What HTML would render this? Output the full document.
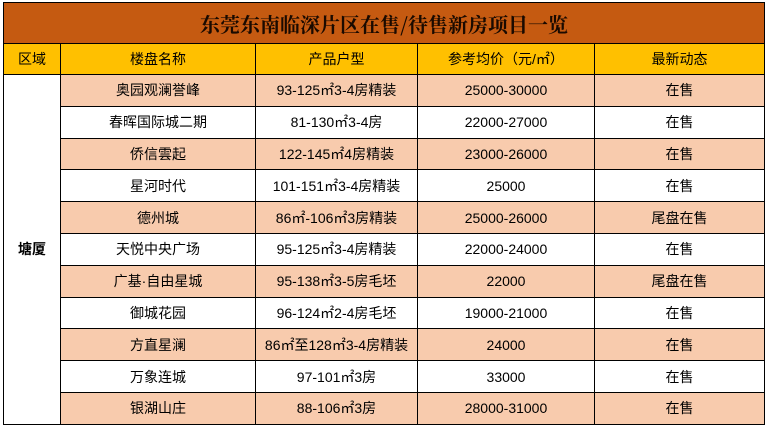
<!DOCTYPE html><html><head><meta charset="utf-8"><style>
html,body{margin:0;width:768px;height:429px;overflow:hidden;background:#fff}
body{font-family:"Liberation Sans","Noto Sans CJK SC",sans-serif;position:relative}
table{position:absolute;left:3px;top:2px;border-collapse:collapse;table-layout:fixed;width:761px}
td{border:1.5px solid #000;text-align:center;font-size:14px;padding:0;height:30.8px;color:#000;white-space:nowrap;overflow:hidden}
.t td{background:#c55a11;font-size:20px;font-weight:bold;height:40px;font-family:"Noto Serif CJK SC",serif;color:#1a0a00}
.h td{background:#ffc000;height:30px}
.o td.c{background:#f8cbad}
.region{background:#fff;font-weight:bold}
</style></head><body>
<table>
<colgroup><col style="width:57px"><col style="width:195px"><col style="width:162px"><col style="width:177px"><col style="width:170px"></colgroup>
<tr class="t"><td colspan="5">东莞东南临深片区在售/待售新房项目一览</td></tr>
<tr class="h"><td>区域</td><td>楼盘名称</td><td>产品户型</td><td>参考均价（元/㎡）</td><td>最新动态</td></tr>
<tr class="o"><td rowspan="11" class="region">塘厦</td><td class="c">奥园观澜誉峰</td><td class="c">93-125㎡3-4房精装</td><td class="c">25000-30000</td><td class="c">在售</td></tr>
<tr><td>春晖国际城二期</td><td>81-130㎡3-4房</td><td>22000-27000</td><td>在售</td></tr>
<tr class="o"><td class="c">侨信雲起</td><td class="c">122-145㎡4房精装</td><td class="c">23000-26000</td><td class="c">在售</td></tr>
<tr><td>星河时代</td><td>101-151㎡3-4房精装</td><td>25000</td><td>在售</td></tr>
<tr class="o"><td class="c">德州城</td><td class="c">86㎡-106㎡3房精装</td><td class="c">25000-26000</td><td class="c">尾盘在售</td></tr>
<tr><td>天悦中央广场</td><td>95-125㎡3-4房精装</td><td>22000-24000</td><td>在售</td></tr>
<tr class="o"><td class="c">广基·自由星城</td><td class="c">95-138㎡3-5房毛坯</td><td class="c">22000</td><td class="c">尾盘在售</td></tr>
<tr><td>御城花园</td><td>96-124㎡2-4房毛坯</td><td>19000-21000</td><td>在售</td></tr>
<tr class="o"><td class="c">方直星澜</td><td class="c">86㎡至128㎡3-4房精装</td><td class="c">24000</td><td class="c">在售</td></tr>
<tr><td>万象连城</td><td>97-101㎡3房</td><td>33000</td><td>在售</td></tr>
<tr class="o"><td class="c">银湖山庄</td><td class="c">88-106㎡3房</td><td class="c">28000-31000</td><td class="c">在售</td></tr>
</table>
</body></html>
